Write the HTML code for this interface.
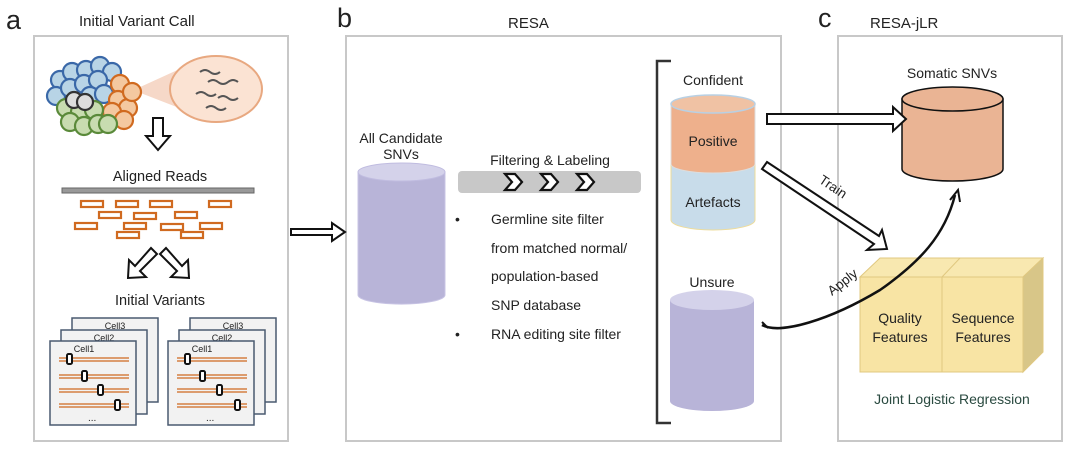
<!DOCTYPE html>
<html><head><meta charset="utf-8"><style>
body{margin:0;width:1080px;height:454px;background:#fff;overflow:hidden}
svg text{font-family:"Liberation Sans",sans-serif;fill:#222}
</style></head><body>
<svg width="1080" height="454" viewBox="0 0 1080 454">
<defs>
<g id="card"><rect width="86" height="84" fill="#f2f2f2" stroke="#4a5a70" stroke-width="1.5"/></g>
</defs>
<text x="6" y="29" font-size="27">a</text>
<text x="79" y="26" font-size="15">Initial Variant Call</text>
<text x="337" y="27" font-size="27">b</text>
<text x="508" y="28" font-size="15">RESA</text>
<text x="818" y="27" font-size="27">c</text>
<text x="870" y="28" font-size="15">RESA-jLR</text>
<rect x="34" y="36" width="254" height="405" fill="none" stroke="#c8c8c8" stroke-width="2"/>
<rect x="346" y="36" width="435" height="405" fill="none" stroke="#c8c8c8" stroke-width="2"/>
<rect x="838" y="36" width="224" height="405" fill="none" stroke="#c8c8c8" stroke-width="2"/>

<polygon points="138,88 195,62 205,118 138,92" fill="#f6d8c8"/>
<ellipse cx="216" cy="89" rx="46" ry="33" fill="#fbe3d3" stroke="#e8a880" stroke-width="2"/>
<g fill="none" stroke="#555" stroke-width="2">
<path d="M200,72 q5,-4 10,0 t10,0"/><path d="M208,82 q5,-4 10,0 t10,0 t10,0"/><path d="M196,94 q5,-4 10,0 t10,0"/><path d="M218,98 q5,-4 10,0 t10,0"/><path d="M206,108 q5,-4 10,0 t10,0"/>
</g>
<g stroke-width="2.2">
<g fill="#b8d4e6" stroke="#3a68a8">
<circle cx="60" cy="80" r="9"/><circle cx="72" cy="72" r="9"/><circle cx="86" cy="70" r="9"/><circle cx="100" cy="66" r="9"/><circle cx="112" cy="72" r="9"/><circle cx="56" cy="96" r="9"/><circle cx="70" cy="88" r="9"/><circle cx="84" cy="84" r="9"/><circle cx="98" cy="80" r="9"/><circle cx="90" cy="96" r="9"/><circle cx="104" cy="94" r="9"/></g>
<g fill="#f4c8a0" stroke="#d06a20">
<circle cx="120" cy="84" r="9"/><circle cx="118" cy="100" r="9"/><circle cx="128" cy="108" r="9"/><circle cx="132" cy="92" r="9"/><circle cx="112" cy="112" r="9"/><circle cx="124" cy="120" r="9"/></g>
<g fill="#c8dcb0" stroke="#5a8a3a">
<circle cx="66" cy="108" r="9"/><circle cx="80" cy="112" r="9"/><circle cx="94" cy="110" r="9"/><circle cx="70" cy="122" r="9"/><circle cx="84" cy="126" r="9"/><circle cx="98" cy="124" r="9"/><circle cx="108" cy="124" r="9"/></g>
<circle cx="74" cy="100" r="8" fill="#ddd" stroke="#333"/><circle cx="85" cy="102" r="8" fill="#ddd" stroke="#333"/>
</g>
<polygon points="153,118 163,118 163,136 170,136 158,150 146,136 153,136" fill="#fff" stroke="#111" stroke-width="2"/>
<text x="160" y="181" font-size="14.5" text-anchor="middle">Aligned Reads</text>
<rect x="62" y="188" width="192" height="5" fill="#999" stroke="#666" stroke-width="1"/>
<g fill="#fff" stroke="#d06a20" stroke-width="2.2">
<rect x="81" y="201" width="22" height="6"/><rect x="116" y="201" width="22" height="6"/><rect x="150" y="201" width="22" height="6"/><rect x="209" y="201" width="22" height="6"/>
<rect x="99" y="212" width="22" height="6"/><rect x="134" y="213" width="22" height="6"/><rect x="175" y="212" width="22" height="6"/>
<rect x="75" y="223" width="22" height="6"/><rect x="124" y="223" width="22" height="6"/><rect x="161" y="224" width="22" height="6"/><rect x="200" y="223" width="22" height="6"/>
<rect x="117" y="232" width="22" height="6"/><rect x="181" y="232" width="22" height="6"/></g>
<g fill="#fff" stroke="#111" stroke-width="2">
<polygon points="151,248 157,254 140,271 146,277 128,278 129,260 135,266" />
<polygon points="166,248 160,254 177,271 171,277 189,278 188,260 182,266" />
</g>
<text x="160" y="305" font-size="14.5" text-anchor="middle">Initial Variants</text>
<g transform="translate(72,318)"><use href="#card"/><text x="43" y="11" text-anchor="middle" font-size="9">Cell3</text></g>
<g transform="translate(61,330)"><use href="#card"/><text x="43" y="11" text-anchor="middle" font-size="9">Cell2</text></g>
<g transform="translate(50,341)"><use href="#card"/><text x="34" y="11" text-anchor="middle" font-size="9">Cell1</text></g>
<g transform="translate(190,318)"><use href="#card"/><text x="43" y="11" text-anchor="middle" font-size="9">Cell3</text></g>
<g transform="translate(179,330)"><use href="#card"/><text x="43" y="11" text-anchor="middle" font-size="9">Cell2</text></g>
<g transform="translate(168,341)"><use href="#card"/><text x="34" y="11" text-anchor="middle" font-size="9">Cell1</text></g>
<g stroke="#d06a20" stroke-width="1.3">
<path d="M59,358h70M59,361h70M59,375h70M59,378h70M59,389h70M59,392h70M59,404h70M59,407h70"/>
<path d="M177,358h70M177,361h70M177,375h70M177,378h70M177,389h70M177,392h70M177,404h70M177,407h70"/>
</g>
<g fill="#fff" stroke="#111" stroke-width="2">
<rect x="67" y="354" width="5" height="10" rx="1.5"/><rect x="82" y="371" width="5" height="10" rx="1.5"/><rect x="98" y="385" width="5" height="10" rx="1.5"/><rect x="115" y="400" width="5" height="10" rx="1.5"/>
<rect x="185" y="354" width="5" height="10" rx="1.5"/><rect x="200" y="371" width="5" height="10" rx="1.5"/><rect x="217" y="385" width="5" height="10" rx="1.5"/><rect x="235" y="400" width="5" height="10" rx="1.5"/>
</g>
<text x="88" y="421" font-size="10">...</text><text x="206" y="421" font-size="10">...</text>

<polygon points="291,229 332,229 332,223 345,232 332,241 332,235 291,235" fill="#fff" stroke="#111" stroke-width="2"/>

<text x="401" y="143" font-size="14" text-anchor="middle">All Candidate</text>
<text x="401" y="159" font-size="14" text-anchor="middle">SNVs</text>
<path d="M358,172 v123 a43,9 0 0 0 87,0 v-123 z" fill="#b8b4d8" stroke="#c8c4e4"/>
<ellipse cx="401.5" cy="172" rx="43.5" ry="9" fill="#d4d2ea" stroke="#c0bce0"/>
<text x="550" y="165" font-size="14" text-anchor="middle">Filtering &amp; Labeling</text>
<rect x="458" y="171" width="183" height="22" rx="4" fill="#c8c8c8"/>
<g fill="#fff" stroke="#111" stroke-width="2.2">
<polygon points="505,174 515,174 522,182 515,190 505,190 512,182"/>
<polygon points="541,174 551,174 558,182 551,190 541,190 548,182"/>
<polygon points="577,174 587,174 594,182 587,190 577,190 584,182"/>
</g>
<g font-size="14">
<text x="455" y="224">•</text><text x="491" y="224">Germline site filter</text>
<text x="491" y="253">from matched normal/</text>
<text x="491" y="281">population-based</text>
<text x="491" y="310">SNP database</text>
<text x="455" y="339">•</text><text x="491" y="339">RNA editing site filter</text>
</g>
<path d="M671,61 h-14 v362 h14" fill="none" stroke="#333" stroke-width="2.5"/>
<text x="713" y="85" font-size="14" text-anchor="middle">Confident</text>
<path d="M671,164 v56 a42,10 0 0 0 84,0 v-56 z" fill="#c8dcea" stroke="#eedc9a"/>
<path d="M671,104 v60 a42,9 0 0 0 84,0 v-60 z" fill="#eeb08c" stroke="#ddd"/>
<ellipse cx="713" cy="104" rx="42" ry="9" fill="#f0c2a4" stroke="#b8d0e4" stroke-width="1.5"/>
<text x="713" y="146" font-size="14" text-anchor="middle">Positive</text>
<text x="713" y="207" font-size="14" text-anchor="middle">Artefacts</text>
<text x="712" y="287" font-size="14" text-anchor="middle">Unsure</text>
<path d="M670,300 v101 a42,10 0 0 0 84,0 v-101 z" fill="#b8b4d8"/>
<ellipse cx="712" cy="300" rx="42" ry="10" fill="#d4d2ea"/>

<text x="952" y="78" font-size="14" text-anchor="middle">Somatic SNVs</text>
<path d="M902,99 v70 a50.5,12 0 0 0 101,0 v-70 z" fill="#eab494" stroke="#111" stroke-width="1.5"/>
<ellipse cx="952.5" cy="99" rx="50.5" ry="12" fill="#eab494" stroke="#111" stroke-width="1.5"/>
<polygon points="767,114 893,114 893,107 906,119 893,131 893,124 767,124" fill="#fff" stroke="#111" stroke-width="2"/>
<polygon points="767,162 879,236 882,230 887,249 867,250 874,244 762,169" fill="#fff" stroke="#111" stroke-width="2"/>
<text x="0" y="0" font-size="13.5" transform="translate(818,182) rotate(34)">Train</text>
<polygon points="860,277 880,258 1043,258 1023,277" fill="#f8e8b0" stroke="#e0c880"/>
<polygon points="1023,277 1043,258 1043,352 1023,372" fill="#d8c688" stroke="#e0c880"/>
<rect x="860" y="277" width="82" height="95" fill="#f8e4a4" stroke="#e0c880"/>
<rect x="942" y="277" width="81" height="95" fill="#f8e4a4" stroke="#e0c880"/>
<line x1="942" y1="277" x2="960" y2="258" stroke="#e0c880"/>
<g font-size="14" text-anchor="middle">
<text x="900" y="323">Quality</text><text x="900" y="342">Features</text>
<text x="983" y="323">Sequence</text><text x="983" y="342">Features</text>
</g>
<text x="952" y="404" font-size="14" text-anchor="middle" style="fill:#2a4a40">Joint Logistic Regression</text>
<path d="M762,325 C780,335 830,320 880,290 C920,262 945,235 955,195" fill="none" stroke="#111" stroke-width="2.5"/>
<path d="M762,322 l6,6 M950,200 l8,-10 l2,12" fill="none" stroke="#111" stroke-width="2"/>
<text x="0" y="0" font-size="13.5" transform="translate(832,296) rotate(-38)">Apply</text>
</svg>
</body></html>
